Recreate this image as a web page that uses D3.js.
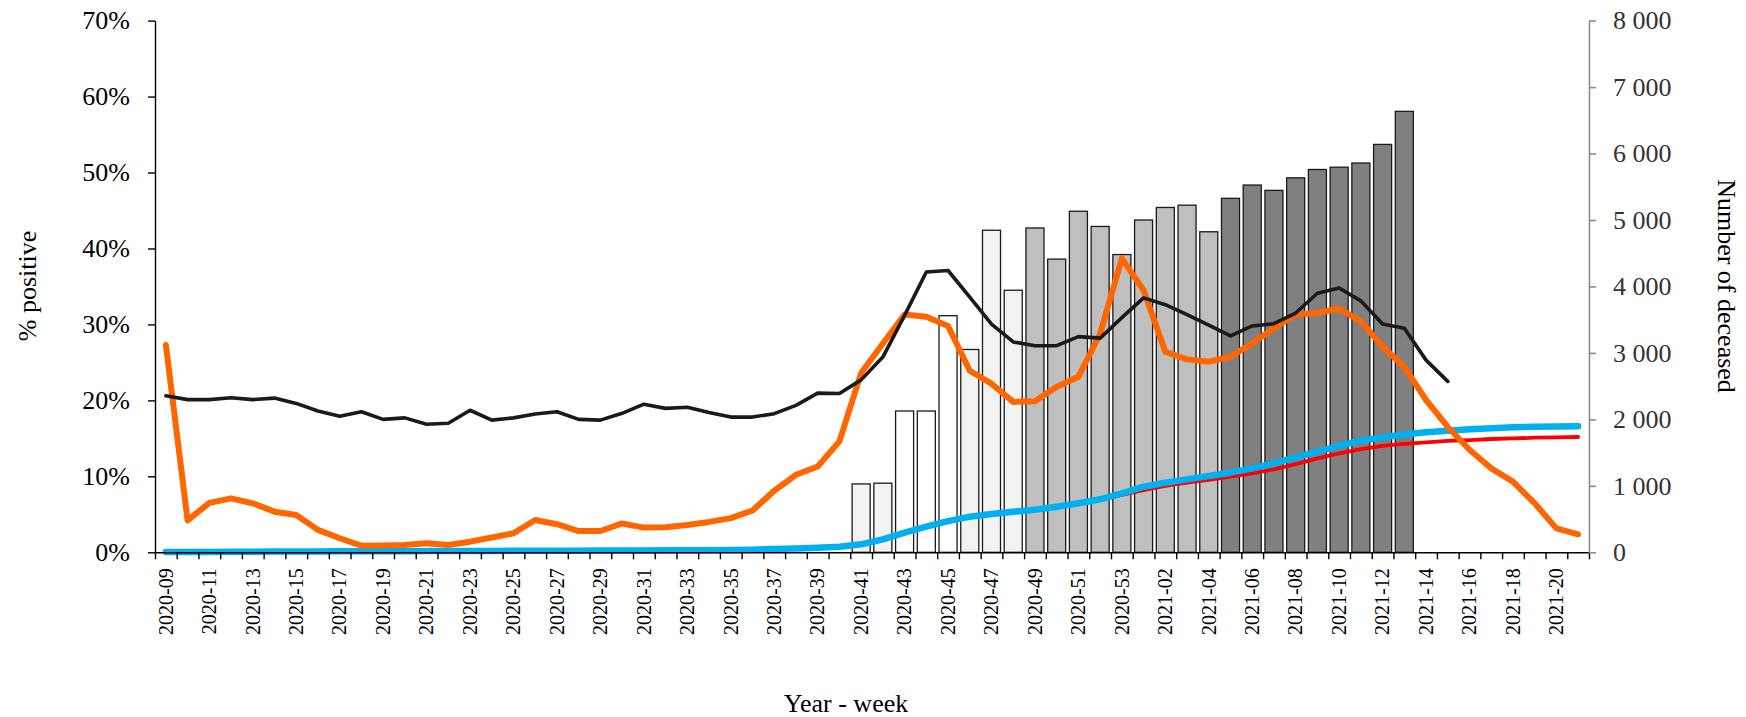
<!DOCTYPE html>
<html>
<head>
<meta charset="utf-8">
<script src="https://cdn.jsdelivr.net/npm/d3@7"></script>
<style>
  body { margin: 0; background: #fff; }
  svg { display: block; }
  text { font-family: "Liberation Serif", "Times New Roman", serif; }
</style>
</head>
<body>
<svg id="chart" width="1746" height="717"></svg>
<script>
// ---------- DATA ----------
const weeks = [
  "2020-09","2020-10","2020-11","2020-12","2020-13","2020-14","2020-15","2020-16","2020-17","2020-18",
  "2020-19","2020-20","2020-21","2020-22","2020-23","2020-24","2020-25","2020-26","2020-27","2020-28",
  "2020-29","2020-30","2020-31","2020-32","2020-33","2020-34","2020-35","2020-36","2020-37","2020-38",
  "2020-39","2020-40","2020-41","2020-42","2020-43","2020-44","2020-45","2020-46","2020-47","2020-48",
  "2020-49","2020-50","2020-51","2020-52","2020-53","2021-01","2021-02","2021-03","2021-04","2021-05",
  "2021-06","2021-07","2021-08","2021-09","2021-10","2021-11","2021-12","2021-13","2021-14","2021-15",
  "2021-16","2021-17","2021-18","2021-19","2021-20","2021-21"
];

// black line, % positive (2020-09 .. 2021-15)
const blackPct = [
  20.6, 20.1, 20.1, 20.35, 20.1, 20.3, 19.6, 18.6, 17.9, 18.5,
  17.5, 17.7, 16.85, 17.0, 18.7, 17.4, 17.7, 18.2, 18.5, 17.5,
  17.4, 18.3, 19.5, 18.95, 19.1, 18.4, 17.8, 17.8, 18.25, 19.35,
  20.95, 20.9, 22.7, 25.7, 31.2, 36.9, 37.1, 33.6, 30.05, 27.7,
  27.2, 27.2, 28.4, 28.2, 30.9, 33.5, 32.6, 31.3, 29.9, 28.5,
  29.8, 30.1, 31.5, 34.1, 34.8, 33.1, 30.05, 29.5, 25.3, 22.5
];

// orange line, % positive (2020-09 .. 2021-21)
const orangePct = [
  27.3, 4.2, 6.5, 7.1, 6.45, 5.35, 4.9, 2.95, 1.85, 0.87,
  0.9, 0.96, 1.18, 0.96, 1.4, 1.95, 2.5, 4.25, 3.7, 2.8,
  2.8, 3.8, 3.25, 3.3, 3.6, 4.0, 4.5, 5.5, 8.1, 10.2,
  11.3, 14.6, 23.6, 27.5, 31.3, 31.0, 29.8, 23.9, 22.2, 19.8,
  19.9, 21.8, 23.1, 28.8, 38.7, 34.5, 26.4, 25.4, 25.1, 25.75,
  27.5, 29.5, 31.3, 31.5, 32.1, 30.4, 27.1, 24.4, 20.05, 16.5,
  13.5, 11.05, 9.3, 6.45, 3.15, 2.37
];

// blue line, number of deceased (cumulative)
const blueDeceased = [
  3, 5, 6, 8, 9, 11, 12, 13, 14, 15,
  16, 17, 18, 19, 20, 21, 22, 23, 24, 25,
  26, 27, 28, 29, 30, 32, 34, 40, 50, 58,
  70, 84, 120, 195, 295, 385, 470, 536, 576, 611,
  640, 686, 737, 798, 888, 987, 1047, 1097, 1148, 1198,
  1264, 1338, 1429, 1513, 1600, 1680, 1730, 1774, 1806, 1829,
  1851, 1865, 1880, 1890, 1893, 1898
];

// red line, number of deceased (cumulative)
const redDeceased = [
  3, 5, 6, 8, 9, 11, 12, 13, 14, 15,
  16, 17, 18, 19, 20, 21, 22, 23, 24, 25,
  26, 27, 28, 29, 30, 32, 34, 40, 50, 58,
  70, 84, 120, 195, 295, 385, 470, 536, 576, 611,
  640, 686, 735, 790, 862, 937, 998, 1047, 1088, 1137,
  1189, 1249, 1328, 1414, 1489, 1554, 1600, 1630, 1655, 1675,
  1689, 1705, 1713, 1724, 1730, 1735
];

// bars (left axis, %)
const barWeeks = [
  "2020-41","2020-42","2020-43","2020-44","2020-45","2020-46","2020-47","2020-48","2020-49","2020-50",
  "2020-51","2020-52","2020-53","2021-01","2021-02","2021-03","2021-04","2021-05","2021-06","2021-07",
  "2021-08","2021-09","2021-10","2021-11","2021-12","2021-13"
];
const barPct = [
  9.0, 9.1, 18.6, 18.6, 31.15, 26.7, 42.4, 34.5, 42.7, 38.6,
  44.9, 42.9, 39.2, 43.75, 45.4, 45.7, 42.2, 46.6, 48.35, 47.65,
  49.3, 50.4, 50.7, 51.25, 53.7, 58.05
];
// shade group of each bar
const barGroup = [
  "light","light","white","white","white","light","light","light","mid","mid",
  "mid","mid","mid","mid","mid","mid","mid","dark","dark","dark",
  "dark","dark","dark","dark","dark","dark"
];

const leftTicks = [0, 10, 20, 30, 40, 50, 60, 70];
const rightTicks = [0, 1000, 2000, 3000, 4000, 5000, 6000, 7000, 8000];

// ---------- CHART ----------
const shade = { light: "#f2f2f2", white: "#ffffff", mid: "#bfbfbf", dark: "#808080" };
const svg = d3.select("#chart");
const X0 = 155, X1 = 1589, Y0 = 552.3, Y1 = 20.6;

const x = d3.scaleBand().domain(weeks).range([X0, X1]).padding(0);
const xBar = d3.scaleBand().domain(weeks).range([X0, X1]).paddingInner(0.17).paddingOuter(0.085);
const xIdx = d3.scaleLinear().domain([0, weeks.length]).range([X0, X1]);
const yL = d3.scaleLinear().domain([0, 70]).range([Y0, Y1]);
const yR = d3.scaleLinear().domain([0, 8000]).range([Y0, Y1]);
const cx = w => x(w) + x.bandwidth() / 2;

// bars
svg.append("g").selectAll("rect").data(barWeeks).join("rect")
  .attr("x", w => xBar(w))
  .attr("width", xBar.bandwidth())
  .attr("y", (w, i) => yL(barPct[i]))
  .attr("height", (w, i) => Y0 - yL(barPct[i]))
  .attr("fill", (w, i) => shade[barGroup[i]])
  .attr("stroke", "#1a1a1a")
  .attr("stroke-width", 1.3);

// lines
function drawLine(values, yScale, color, width) {
  const line = d3.line().x((d, i) => cx(weeks[i])).y(d => yScale(d));
  svg.append("path").datum(values)
    .attr("d", line)
    .attr("fill", "none")
    .attr("stroke", color)
    .attr("stroke-width", width)
    .attr("stroke-linejoin", "round")
    .attr("stroke-linecap", "round");
}
drawLine(redDeceased, yR, "#ff0000", 3.8);
drawLine(blueDeceased, yR, "#00b0f0", 6.5);
drawLine(orangePct, yL, "#ff6600", 6);
drawLine(blackPct, yL, "#1a1a1a", 3.6);

// x axis: boundary ticks
const gx = svg.append("g").attr("transform", `translate(0,${Y0})`)
  .call(d3.axisBottom(xIdx).tickValues(d3.range(0, weeks.length + 1)).tickSize(7).tickSizeOuter(0).tickFormat(""));
gx.select(".domain").attr("stroke", "#000").attr("stroke-width", 1.4);
gx.selectAll(".tick line").attr("stroke", "#000").attr("stroke-width", 1.4);

// x axis labels
const gxl = svg.append("g").attr("transform", `translate(0,${Y0})`)
  .call(d3.axisBottom(x).tickValues(weeks.filter((w, i) => i % 2 === 0)).tickSize(0).tickPadding(0));
gxl.select(".domain").remove();
gxl.selectAll(".tick text")
  .attr("transform", "rotate(-90)")
  .attr("text-anchor", "end")
  .attr("x", -16).attr("y", 0).attr("dy", "0.34em")
  .attr("font-size", 20)
  .attr("font-family", "Liberation Serif, Times New Roman, serif")
  .attr("fill", "#000");

// left axis
const gl = svg.append("g").attr("transform", `translate(${X0},0)`)
  .call(d3.axisLeft(yL).tickValues(leftTicks).tickSize(7).tickSizeOuter(0).tickPadding(18).tickFormat(d => d + "%"));
gl.select(".domain").attr("stroke", "#000").attr("stroke-width", 1.4);
gl.selectAll(".tick line").attr("stroke", "#000").attr("stroke-width", 1.4);
gl.selectAll(".tick text").attr("font-size", 26).attr("font-family", "Liberation Serif, Times New Roman, serif").attr("fill", "#000");

// right axis
const loc = d3.formatLocale({ decimal: ".", thousands: "\u00a0", grouping: [3], currency: ["", ""] });
const gr = svg.append("g").attr("transform", `translate(${X1},0)`)
  .call(d3.axisRight(yR).tickValues(rightTicks).tickSize(7).tickSizeOuter(0).tickPadding(17).tickFormat(loc.format(",")));
gr.select(".domain").attr("stroke", "#8c8c8c").attr("stroke-width", 1.6);
gr.selectAll(".tick line").attr("stroke", "#8c8c8c").attr("stroke-width", 1.6);
gr.selectAll(".tick text").attr("font-size", 26).attr("font-family", "Liberation Serif, Times New Roman, serif").attr("fill", "#333333");

// axis titles
svg.append("text")
  .attr("transform", "translate(36,286) rotate(-90)")
  .attr("text-anchor", "middle")
  .attr("font-size", 26).attr("fill", "#000")
  .text("% positive");
svg.append("text")
  .attr("transform", "translate(1718,286) rotate(90)")
  .attr("text-anchor", "middle")
  .attr("font-size", 26).attr("fill", "#000")
  .text("Number of deceased");
svg.append("text")
  .attr("x", 846).attr("y", 712)
  .attr("text-anchor", "middle")
  .attr("font-size", 26).attr("fill", "#000")
  .text("Year - week");
</script>
</body>
</html>
